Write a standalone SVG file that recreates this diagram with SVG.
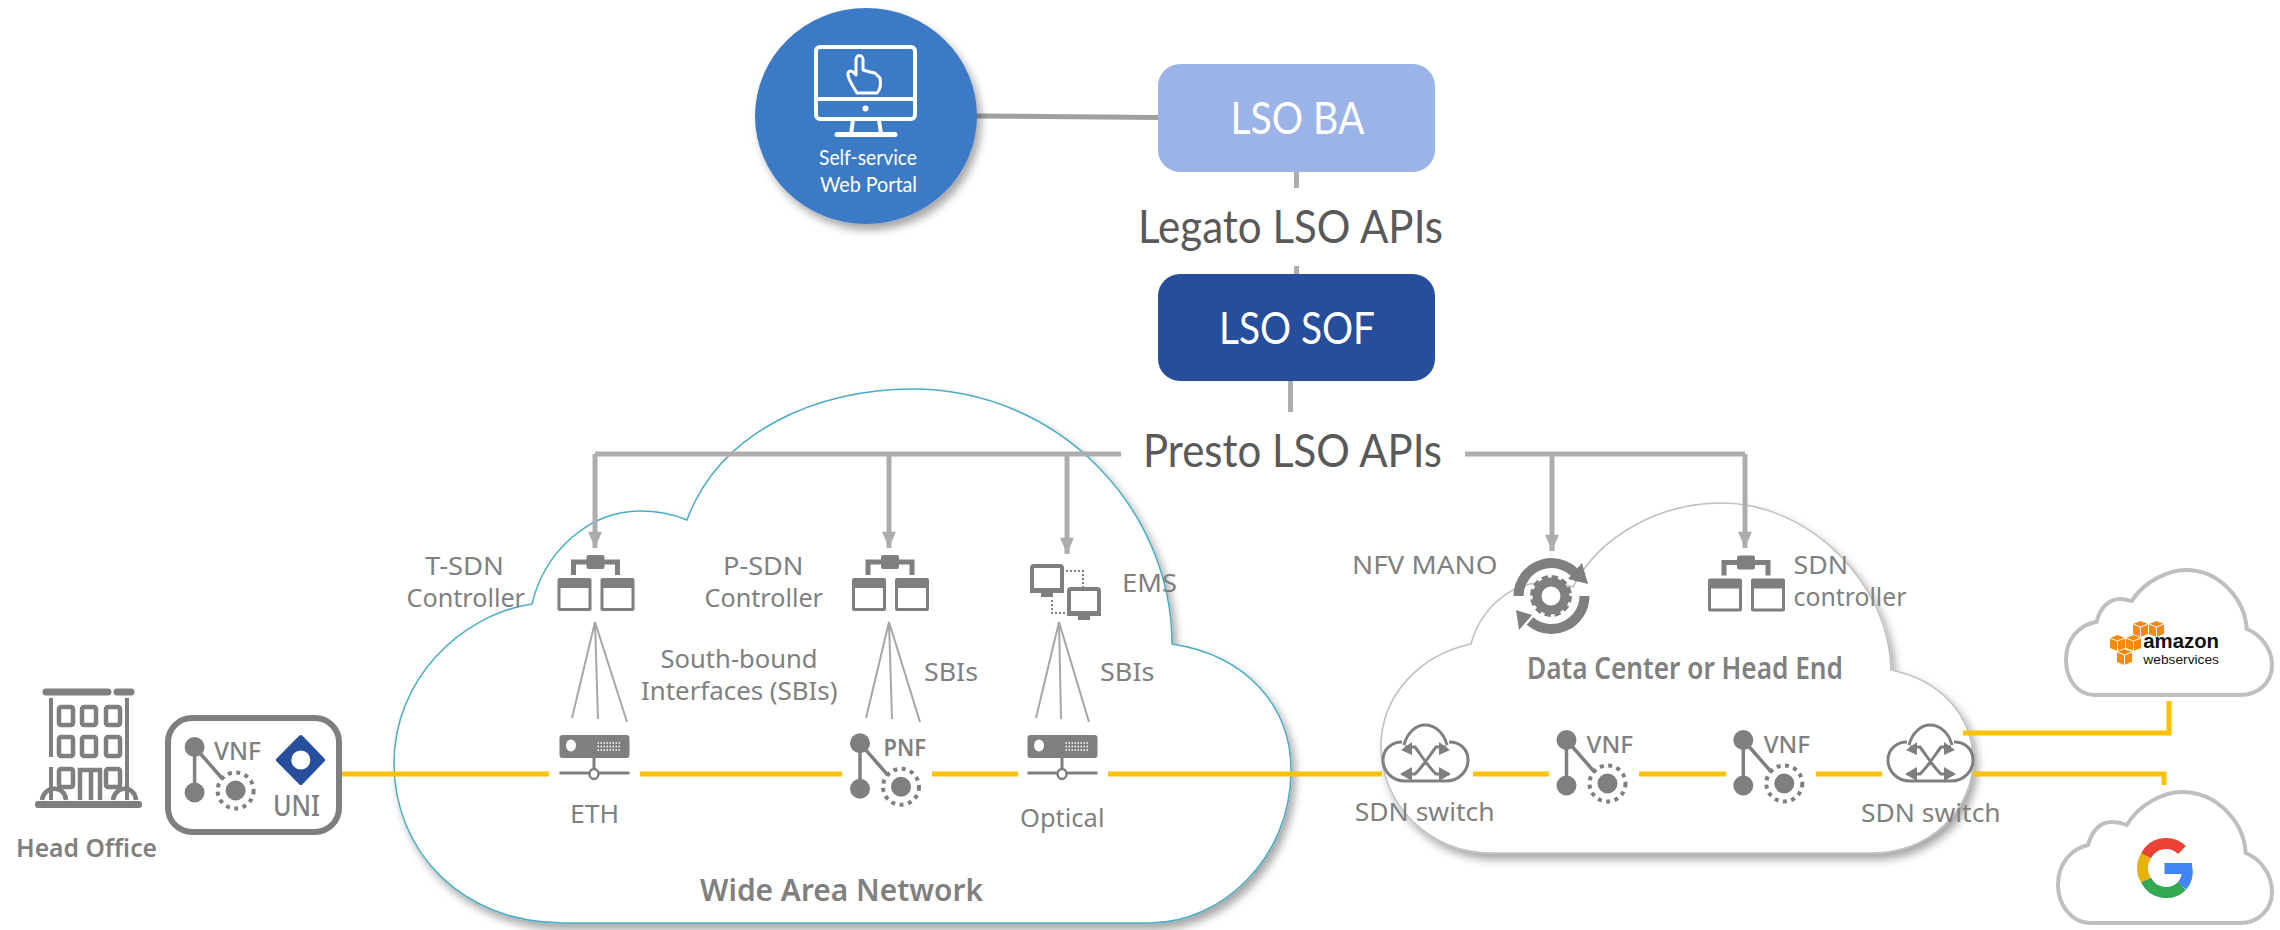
<svg xmlns="http://www.w3.org/2000/svg" xmlns:xlink="http://www.w3.org/1999/xlink" width="2280" height="930" viewBox="0 0 2280 930">
<style>
.k{font-family:"Noto Sans","Liberation Sans",sans-serif;fill:#808080;font-size:25px}
.b{font-weight:600}
.c{font-family:Lato,"Liberation Sans",sans-serif}
.api{fill:#595959;font-size:47px}
.box{fill:#fff;font-size:45px}
.ln{fill:none;stroke:#ffc000;stroke-width:5}
.g{fill:none;stroke:#adadad;stroke-width:5}
.fan{fill:none;stroke:#a6a6a6;stroke-width:2}
.ic{fill:#7f7f7f}
.ol{fill:none;stroke:#7f7f7f}
.cl{fill:#fff;stroke:#bfbfbf;stroke-width:4}
</style>
<defs>
<filter id="sh" x="-10%" y="-10%" width="125%" height="125%"><feDropShadow dx="4" dy="6" stdDeviation="4" flood-color="#000" flood-opacity=".35"/></filter>
<marker id="arr" markerUnits="userSpaceOnUse" markerWidth="17" markerHeight="14" refX="15" refY="6.500" orient="auto" viewBox="0 0 15 13"><path d="M0,0L15,6.500L0,13Z" fill="#adadad"/></marker>
<g id="srv">
<rect x="0" y="0" width="70" height="23" rx="3" class="ic"/>
<ellipse cx="11.500" cy="10.500" rx="5" ry="6" fill="#fff"/>
<path d="M38,8H62M38,11.500H62M38,15H62" stroke="#fff" stroke-width="1.500" stroke-dasharray="1.500 1.500"/>
<path d="M34.500,23V33" class="ol" stroke-width="3"/>
<path d="M0,38H30M39,38H70" class="ol" stroke-width="3"/>
<ellipse cx="34.500" cy="39" rx="4.500" ry="5" fill="#fff" stroke="#7f7f7f" stroke-width="2.500"/>
</g>
<g id="nf">
<circle cx="0" cy="0" r="10" class="ic"/>
<circle cx="0" cy="45.500" r="10" class="ic"/>
<path d="M0,0V45M0,0L28,32" class="ol" stroke-width="3.500"/>
<circle cx="41" cy="43.500" r="10" class="ic"/>
<circle cx="41" cy="43.500" r="18" class="ol" stroke-width="4" stroke-dasharray="4 4.500"/>
</g>
<g id="ctl">
<path d="M-22,20V7H22V20" class="ol" stroke-width="5"/>
<rect x="-9" y="0" width="18" height="14" rx="2" class="ic"/>
<g id="pane"><rect x="-38" y="23" width="34" height="33" rx="2" class="ic"/><rect x="-35" y="33" width="28" height="20" fill="#fff"/></g>
<use xlink:href="#pane" href="#pane" x="43"/>
</g>
<g id="sw">
<path d="M22,56H63C76,56 85,46 85,35C85,24 77,17 66,17M19,17C9,17 0,24 0,35C0,46 9,56 22,56M21,20C24,8 33,0 42,0C52,0 61,8 64,20" class="ol" stroke-width="3"/>
<path d="M22,22H32C38,30 47,44 53,49H66M63,22H53C47,30 38,44 32,49H19" class="ol" stroke-width="3"/>
<path d="M18,25L29,17V30ZM67,25L56,17V30ZM17,49L29,42V56ZM68,49L56,42V56Z" class="ic"/>
</g>
<g id="cube"><path d="M0,3L7.500,0L15,3V13L7.500,16L0,13Z" fill="#f58b0c"/><path d="M0,3L7.500,6L15,3M7.500,6V16" fill="none" stroke="#fff" stroke-width="1"/></g>
<g id="mon"><rect x="2" y="2" width="30" height="25" rx="2" fill="#fff" stroke="#7f7f7f" stroke-width="4"/><path d="M0,24H34V29H0ZM11,29H23V33H11Z" class="ic"/></g>
</defs>

<g id="wan-cloud"><path filter="url(#sh)" d="M687,520C720,430 820,389 912,389C1060,389 1172,510 1172,644C1245,655 1291,705 1291,770C1291,860 1220,923 1150,923H564C460,923 394,850 394,763C394,680 460,615 532,604C545,550 590,511 640,511C660,511 675,515 687,520Z" fill="#fff" stroke="#4bacc6" stroke-width="1.500"/></g>
<g id="dc-cloud"><path filter="url(#sh)" d="M1573,587C1600,535 1660,503 1722,503C1810,503 1890,585 1891,670C1940,680 1973,715 1973,760C1973,810 1930,853 1871,853H1491C1430,853 1381,805 1381,747C1381,695 1420,655 1471,644C1480,610 1510,583 1540,583C1552,583 1563,584 1573,587Z" fill="#fff" stroke="#bfbfbf" stroke-width="1.500"/></g>

<g id="connectors">
<path d="M977,116L1158,117.500" fill="none" stroke="#a0a0a0" stroke-width="5"/>
<path d="M1296.500,172V188M1296.500,266V274" class="g" stroke-width="4"/>
<path d="M1290.500,381V412" class="g"/>
<path d="M595,454H1121M1465,454H1745" class="g"/>
<path d="M595,454V548" class="g" marker-end="url(#arr)"/>
<path d="M889,454V548" class="g" marker-end="url(#arr)"/>
<path d="M1067,454V554" class="g" marker-end="url(#arr)"/>
<path d="M1552,454V551" class="g" marker-end="url(#arr)"/>
<path d="M1745,454V548" class="g" marker-end="url(#arr)"/>
<path d="M595,622L572,718M595,622L598,719M595,622L627,722M889,622L866,718M889,622L892,719M889,622L920,722M1059,622L1036,718M1059,622L1061,719M1059,622L1089,722" class="fan"/>
<path d="M342,774H549M640,774H842M932,774H1018M1108,774H1382M1473,774H1549M1639,774H1726M1816,774H1882" class="ln"/>
<path d="M1963,733H2169V701M1973,774H2164V785" class="ln"/>
</g>

<g id="portal">
<ellipse cx="866" cy="116" rx="111" ry="108" fill="#3e7ac6" filter="url(#sh)"/>
<rect x="816" y="47" width="99" height="72" rx="4" fill="none" stroke="#fff" stroke-width="4"/>
<path d="M816,99H915" stroke="#fff" stroke-width="4"/>
<circle cx="865.500" cy="108.500" r="3" fill="#fff"/>
<path d="M853,120L851,134M879,120L881,134" stroke="#fff" stroke-width="4"/>
<path d="M837,134.500H895" stroke="#fff" stroke-width="5" stroke-linecap="round"/>
<path d="M857,93C853,86 848,80 848,74C848,71 851,70 853,72L856,75V60C856,54 863,54 863,60V70L870,72L875,73L880,78C881,84 880,90 877,93Z" fill="none" stroke="#fff" stroke-width="3" stroke-linejoin="round"/>
<text x="819" y="165" class="c" fill="#fff" font-size="21" textLength="98" lengthAdjust="spacingAndGlyphs">Self-service</text>
<text x="820" y="192" class="c" fill="#fff" font-size="21" textLength="97" lengthAdjust="spacingAndGlyphs">Web Portal</text>
</g>

<g id="lso-ba"><rect x="1158" y="64" width="277" height="108" rx="22" fill="#9bb3e6"/><text x="1230.500" y="134" class="c box" textLength="134" lengthAdjust="spacingAndGlyphs">LSO BA</text></g>
<g id="lso-sof"><rect x="1158" y="274" width="277" height="107" rx="22" fill="#264e9c"/><text x="1219" y="344" class="c box" textLength="156" lengthAdjust="spacingAndGlyphs">LSO SOF</text></g>
<text id="legato" x="1138" y="243" class="c api" textLength="305" lengthAdjust="spacingAndGlyphs">Legato LSO APIs</text>
<text id="presto" x="1143" y="467" class="c api" textLength="299" lengthAdjust="spacingAndGlyphs">Presto LSO APIs</text>

<g id="head-office">
<path d="M46,692H108M117,692H131" class="ol" stroke-width="7" stroke-linecap="round"/>
<path d="M51,698V757M51,767V800M127,698V800" class="ol" stroke-width="4"/>
<g class="ol" stroke-width="4.500">
<rect x="59" y="707" width="14" height="18" rx="2"/><rect x="82" y="707" width="14" height="18" rx="2"/><rect x="106" y="707" width="14" height="18" rx="2"/>
<rect x="59" y="737" width="14" height="19" rx="2"/><rect x="82" y="737" width="14" height="19" rx="2"/><rect x="106" y="737" width="14" height="19" rx="2"/>
<rect x="59" y="769" width="14" height="18" rx="2"/><rect x="106" y="769" width="14" height="18" rx="2"/>
<path d="M80,800V770H100V800M91,770V800M42,800C44,785 65,785 66,800M113,800C115,785 135,785 136,800"/>
</g>
<rect x="35" y="801" width="107" height="7" rx="3" class="ic"/>
<text x="16" y="857" class="k b" style="font-size:26px" textLength="141" lengthAdjust="spacingAndGlyphs">Head Office</text>
</g>

<g id="uni">
<rect x="168" y="718" width="171" height="114" rx="24" fill="#fff" stroke="#7f7f7f" stroke-width="6"/>
<use xlink:href="#nf" href="#nf" x="194.600" y="747"/>
<text x="214" y="760" class="k" style="font-size:25px;font-weight:500" textLength="47" lengthAdjust="spacingAndGlyphs">VNF</text>
<path d="M300.800,737L323,760L300.800,783L278,760Z" fill="#264e9c" stroke="#264e9c" stroke-width="4" stroke-linejoin="round"/>
<circle cx="300.800" cy="760" r="9.500" fill="#fff"/>
<text x="273" y="815.700" class="k" style="font-size:29px;font-weight:500" textLength="47" lengthAdjust="spacingAndGlyphs">UNI</text>
</g>

<g id="t-sdn">
<use xlink:href="#ctl" href="#ctl" x="595.500" y="555"/>
<text x="425" y="574.700" class="k" textLength="79" lengthAdjust="spacingAndGlyphs">T-SDN</text>
<text x="406.500" y="606.700" class="k" textLength="118.500" lengthAdjust="spacingAndGlyphs">Controller</text>
</g>
<g id="p-sdn">
<use xlink:href="#ctl" href="#ctl" x="890" y="555"/>
<text x="723" y="574.700" class="k" textLength="80.500" lengthAdjust="spacingAndGlyphs">P-SDN</text>
<text x="704.500" y="606.700" class="k" textLength="118.500" lengthAdjust="spacingAndGlyphs">Controller</text>
</g>
<g id="ems">
<use xlink:href="#mon" href="#mon" x="1030" y="564"/>
<use xlink:href="#mon" href="#mon" x="1067" y="587"/>
<path d="M1066,571H1083V587M1052,600V613H1067" fill="none" stroke="#7f7f7f" stroke-width="2" stroke-dasharray="2 2"/>
<text x="1122" y="592" class="k" textLength="55" lengthAdjust="spacingAndGlyphs">EMS</text>
</g>
<g id="sbi-labels">
<text x="660.600" y="667.700" class="k" textLength="157" lengthAdjust="spacingAndGlyphs">South-bound</text>
<text x="641" y="700" class="k" textLength="196.500" lengthAdjust="spacingAndGlyphs">Interfaces (SBIs)</text>
<text x="924" y="680.700" class="k" textLength="54" lengthAdjust="spacingAndGlyphs">SBIs</text>
<text x="1100" y="680.700" class="k" textLength="54.500" lengthAdjust="spacingAndGlyphs">SBIs</text>
</g>
<g id="eth"><use xlink:href="#srv" href="#srv" x="559.500" y="735"/><text x="570" y="822.700" class="k" textLength="49" lengthAdjust="spacingAndGlyphs">ETH</text></g>
<g id="pnf"><use xlink:href="#nf" href="#nf" x="860" y="743.300"/><text x="883.600" y="756" class="k" style="font-size:23px;font-weight:600" textLength="42.400" lengthAdjust="spacingAndGlyphs">PNF</text></g>
<g id="optical"><use xlink:href="#srv" href="#srv" x="1027.500" y="735"/><text x="1020" y="827" class="k" textLength="84.500" lengthAdjust="spacingAndGlyphs">Optical</text></g>
<text id="wan-label" x="700" y="901" class="k b" style="font-size:31px" textLength="283" lengthAdjust="spacingAndGlyphs">Wide Area Network</text>

<g id="nfv-mano">
<path d="M1518.500,596A33,33 0 0 1 1580,579.500" class="ol" stroke-width="10"/>
<path d="M1584.500,596A33,33 0 0 1 1530,621" class="ol" stroke-width="10"/>
<path d="M1588,584L1582,563L1568,579ZM1519,630L1516,610L1532,615Z" class="ic"/>
<circle cx="1551" cy="596" r="18.500" class="ol" stroke-width="5" stroke-dasharray="6 3.700"/>
<circle cx="1551" cy="596" r="14" class="ol" stroke-width="9"/>
<text x="1352" y="574" class="k" textLength="145.500" lengthAdjust="spacingAndGlyphs">NFV MANO</text>
</g>
<g id="sdn-controller">
<use xlink:href="#ctl" href="#ctl" x="1746" y="555.500"/>
<text x="1793.500" y="574" class="k" textLength="54.500" lengthAdjust="spacingAndGlyphs">SDN</text>
<text x="1793.500" y="606" class="k" textLength="113" lengthAdjust="spacingAndGlyphs">controller</text>
</g>
<text id="dc-label" x="1527" y="678.700" class="k b" style="font-size:30px" textLength="316" lengthAdjust="spacingAndGlyphs">Data Center or Head End</text>
<g id="sdn-switch-1"><use xlink:href="#sw" href="#sw" x="1383" y="725"/><text x="1354.700" y="821" class="k" textLength="140" lengthAdjust="spacingAndGlyphs">SDN switch</text></g>
<g id="vnf-1"><use xlink:href="#nf" href="#nf" x="1566.500" y="740"/><text x="1586.500" y="753" class="k" style="font-size:23px;font-weight:500" textLength="46.500" lengthAdjust="spacingAndGlyphs">VNF</text></g>
<g id="vnf-2"><use xlink:href="#nf" href="#nf" x="1743.300" y="740"/><text x="1763.700" y="753" class="k" style="font-size:23px;font-weight:500" textLength="46.300" lengthAdjust="spacingAndGlyphs">VNF</text></g>
<g id="sdn-switch-2"><use xlink:href="#sw" href="#sw" x="1888" y="725"/><text x="1861" y="821.500" class="k" textLength="139.700" lengthAdjust="spacingAndGlyphs">SDN switch</text></g>

<g id="aws">
<path class="cl" d="M2131.700,601C2145,580 2170,570 2186,570C2220,570 2245,600 2246.700,629C2262,635 2272,650 2272,665C2272,683 2258,695 2240,695H2095C2078,695 2066,680 2066,660C2066,640 2078,625 2096.700,621.700C2100,607 2110,599 2120,599C2125,599 2128,600 2131.700,601Z"/>
<use xlink:href="#cube" href="#cube" x="2133" y="621"/><use xlink:href="#cube" href="#cube" x="2149" y="621"/>
<use xlink:href="#cube" href="#cube" x="2110" y="635"/><use xlink:href="#cube" href="#cube" x="2126" y="635"/>
<use xlink:href="#cube" href="#cube" x="2117" y="649"/>
<text x="2143.300" y="648" font-family="Liberation Sans,sans-serif" font-weight="700" font-size="20" fill="#111" textLength="75.700" lengthAdjust="spacingAndGlyphs">amazon</text>
<text x="2143.300" y="664" font-family="Liberation Sans,sans-serif" font-size="13" fill="#111" textLength="75.700" lengthAdjust="spacingAndGlyphs">webservices</text>
</g>
<g id="google">
<path class="cl" d="M2126.700,825C2140,803 2165,792 2182,792C2217,792 2244,822 2245.700,853C2261,859 2272,875 2272,892C2272,910 2258,923 2240,923H2090C2072,923 2058,905 2058,885C2058,865 2070,849 2088,845C2092,831 2100,822 2112,822C2118,822 2122,823 2126.700,825Z"/>
<g fill="none" stroke-width="11">
<path d="M2182,850A22.500,22.500 0 0 0 2146,856" stroke="#ea4335"/>
<path d="M2146,856A22.500,22.500 0 0 0 2146,880" stroke="#e8b10c"/>
<path d="M2146,880A22.500,22.500 0 0 0 2182,886" stroke="#34a853"/>
<path d="M2182,886A22.500,22.500 0 0 0 2187,868" stroke="#4285f4"/>
</g>
<rect x="2164.500" y="863" width="27.500" height="11" fill="#4285f4"/>
</g>
</svg>
